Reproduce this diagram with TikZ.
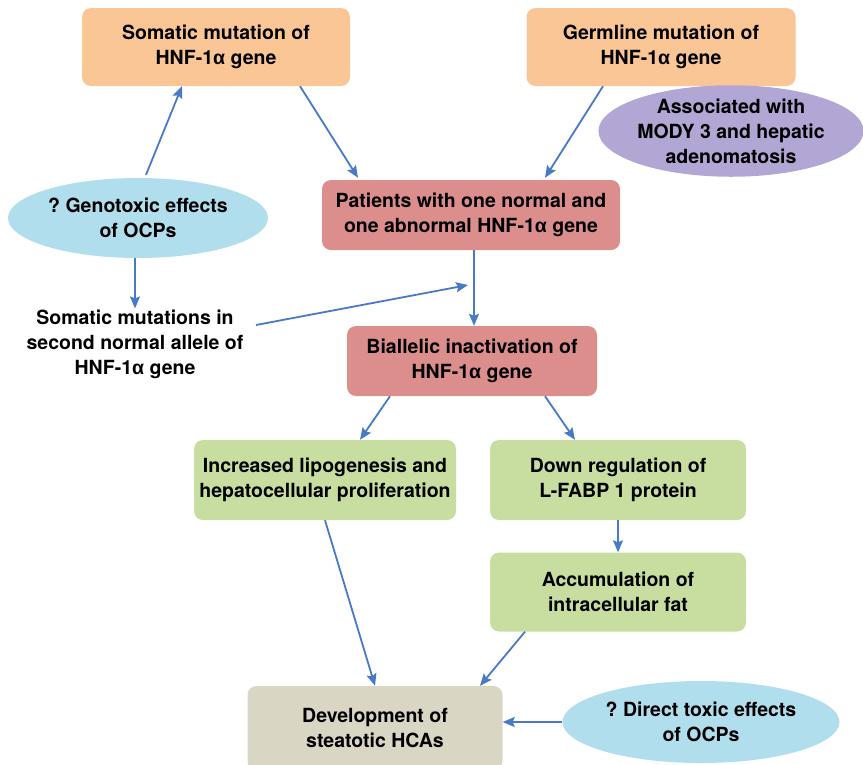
\documentclass[tikz,border=0pt]{standalone}
\usepackage{fontspec}
\setmainfont{TeX Gyre Heros}
\newfontfamily\greekfont{Liberation Sans}
\usetikzlibrary{positioning}
\usetikzlibrary{calc}
\usetikzlibrary{arrows.meta}
\usetikzlibrary{shapes.geometric}
\definecolor{orangebox}{RGB}{250,198,150}
\definecolor{redbox}{RGB}{220,142,140}
\definecolor{greenbox}{RGB}{200,222,160}
\definecolor{khakibox}{RGB}{218,214,196}
\definecolor{bluecloud}{RGB}{176,222,236}
\definecolor{purplecloud}{RGB}{178,166,212}
\definecolor{arrowblue}{RGB}{72,122,200}
\newcommand{\hnf}{HNF-1{\greekfont α}}
\tikzset{
    % Arrow shape for all links
    >={Stealth[length=12pt, width=10pt, inset=2pt]},
%
    % Common text settings for the boxes
    label text/.style={font=\bfseries\fontsize{19.5}{25}\selectfont, align=center},
%
    % A rounded box of given size
    step box/.style={label text, rounded corners=9pt, inner sep=0pt},
%
    % Oval for the side remarks
    remark oval/.style={label text, ellipse, inner sep=0pt},
%
    % Blue connector
    link/.style={->, draw=arrowblue, fill=arrowblue, line width=1.8pt}}

\begin{document}
\frenchspacing
\begin{tikzpicture}[x=1pt, y=-1pt]
\useasboundingbox (0,0) rectangle (863,764);

\node [step box, fill=orangebox, minimum width=268pt, minimum height=78pt]
    (somatic) at (216,47) {Somatic mutation of\\\hnf\ gene};
\node [step box, fill=orangebox, minimum width=269pt, minimum height=78pt]
    (germline) at (661,47) {Germline mutation of\\\hnf\ gene};
\node [remark oval, fill=purplecloud, minimum width=254pt, minimum height=90pt]
    (mody) at (731,131) {Associated with\\MODY 3 and hepatic\\adenomatosis};
\node [remark oval, fill=bluecloud, minimum width=260pt, minimum height=80pt]
    (genotoxic) at (138,218) {? Genotoxic effects\\of OCPs};
\node [step box, fill=redbox, minimum width=298pt, minimum height=70pt]
    (patients) at (471,215) {Patients with one normal and\\one abnormal \hnf\ gene};
\node [label text, inner sep=0pt]
    (second) at (135,344) {Somatic mutations in\\second normal allele of\\\hnf\ gene};
\node [step box, fill=redbox, minimum width=250pt, minimum height=70pt]
    (biallelic) at (472,361) {Biallelic inactivation of\\\hnf\ gene};
\node [step box, fill=greenbox, minimum width=262pt, minimum height=80pt]
    (lipo) at (325,480) {Increased lipogenesis and\\hepatocellular proliferation};
\node [step box, fill=greenbox, minimum width=256pt, minimum height=80pt]
    (fabp) at (618,480) {Down regulation of\\L-FABP 1 protein};
\node [step box, fill=greenbox, minimum width=256pt, minimum height=79pt]
    (fat) at (618,592) {Accumulation of\\intracellular fat};
\node [step box, fill=khakibox, minimum width=255pt, minimum height=84pt]
    (hca) at (375,728) {Development of\\steatotic HCAs};
\node [remark oval, fill=bluecloud, minimum width=277pt, minimum height=82pt]
    (direct) at (701,722) {? Direct toxic effects\\of OCPs};

\coordinate (merge) at (468,285);
\coordinate (second start) at (256,325);

\draw [link] ($(genotoxic.north)+(8,-3)$) -- ($(somatic.south)+(-34,0)$);
\draw [link] ($(somatic.south)+(84,0)$) -- ($(patients.north)+(-113,-2)$);
\draw [link] ($(germline.south)+(-58,0)$) -- ($(patients.north)+(74,-2)$);
\draw [link] ($(genotoxic.south)+(-3,0)$) -- ($(second.north)+(0,-1)$);
\draw [link] (second start) -- (merge);
\draw [link] ($(patients.south)+(3,0)$) -- ($(biallelic.north)+(2,0)$);
\draw [link] ($(biallelic.south)+(-82,0)$) -- ($(lipo.north)+(35,0)$);
\draw [link] ($(biallelic.south)+(73,0)$) -- ($(fabp.north)+(-43,0)$);
\draw [link] (fabp.south) -- (fat.north);
\draw [link] (lipo.south) -- (hca.north);
\draw [link] ($(fat.south)+(-93,0)$) -- ($(hca.north)+(105,0)$);
\draw [link] (direct.west) -- (direct.west -| hca.east);

\end{tikzpicture}
\end{document}
